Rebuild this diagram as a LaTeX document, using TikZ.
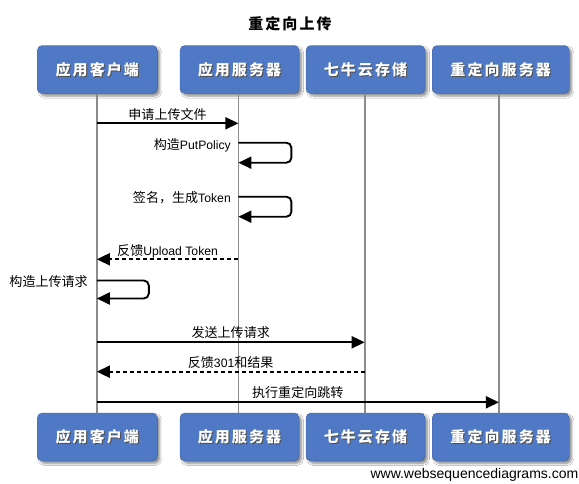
\documentclass[tikz,border=0pt]{standalone}
\usepackage{fontspec}
\setmainfont{Liberation Sans}
\newfontfamily\cjk{Noto Sans CJK SC}[Scale=1.07]
\newfontfamily\cjkbox{Noto Sans CJK SC}[LetterSpace=14]
\usetikzlibrary{arrows.meta,shadows.blur}
\definecolor{boxblue}{RGB}{79,121,196}
\definecolor{boxedge}{RGB}{60,95,160}
\newcommand\zh[1]{{\cjk #1}}
\tikzset{
  actor/.style={rectangle, rounded corners=5pt, fill=boxblue, draw=boxedge, line width=0.4pt,
    minimum height=48pt, inner sep=0pt,
    blur shadow={shadow xshift=2.5pt, shadow yshift=-2.5pt, shadow blur steps=6, shadow opacity=45}},
  actortext/.style={text=white, font=\fontsize{15}{16}\selectfont\cjkbox\bfseries, inner sep=0pt},
  actorshadow/.style={text=black!70, font=\fontsize{15}{16}\selectfont\cjkbox\bfseries, inner sep=0pt},
  lifeline/.style={draw=black!45, line width=1.8pt},
  msg/.style={draw=black, line width=1.9pt, -{Triangle[length=13pt,width=12pt]}},
  ret/.style={msg, dash pattern=on 4pt off 3pt},
  selfmsg/.style={msg, rounded corners=5pt},
  lbl/.style={font=\fontsize{12.2}{14}\selectfont, inner sep=0pt, anchor=base},
}
\newcommand\actor[5]{% name, x, y, width, text
  \node[actor, minimum width=#4pt] (#1) at (#2,#3) {};
  \node[actorshadow] at ([xshift=1pt,yshift=-1pt]#1.center) {#5};
  \node[actortext] at (#1.center) {#5};
}
\begin{document}
\begin{tikzpicture}[x=1pt,y=-1pt]
\useasboundingbox (0,0) rectangle (579,483);
\fill[white] (0,0) rectangle (579,483);
% title
\node[font=\fontsize{15}{16}\selectfont\cjkbox\bfseries, inner sep=0pt] (title) at (290,24) {重定向上传};
% actors
\actor{a1t}{97.3}{69.5}{120}{应用客户端}
\actor{a2t}{239.5}{69.5}{119}{应用服务器}
\actor{a3t}{365.5}{69.5}{119}{七牛云存储}
\actor{a4t}{500.7}{69.5}{137}{重定向服务器}
% lifelines (drawn before bottom actors)
\coordinate (l1t) at (96.8,94); \coordinate (l1b) at (96.8,413);
\coordinate (l2t) at (238.4,94); \coordinate (l2b) at (238.4,413);
\coordinate (l3t) at (364.7,94); \coordinate (l3b) at (364.7,413);
\coordinate (l4t) at (498.9,94); \coordinate (l4b) at (498.9,413);
\draw[lifeline] (l1t) -- (l1b);
\draw[lifeline] (l2t) -- (l2b);
\draw[lifeline] (l3t) -- (l3b);
\draw[lifeline] (l4t) -- (l4b);
\actor{a1b}{97.3}{437}{120}{应用客户端}
\actor{a2b}{239.5}{437}{119}{应用服务器}
\actor{a3b}{365.5}{437}{119}{七牛云存储}
\actor{a4b}{500.7}{437}{137}{重定向服务器}
% message end points
\coordinate (m1a) at (96.8,123.3); \coordinate (m1b) at (238.4,123.3);
\coordinate (s1a) at (238.4,142.7); \coordinate (s1b) at (238.4,162.7);
\coordinate (s2a) at (238.4,196.7); \coordinate (s2b) at (238.4,216.7);
\coordinate (m4a) at (238.4,259.3); \coordinate (m4b) at (96.8,259.3);
\coordinate (s3a) at (96.8,280.5); \coordinate (s3b) at (96.8,298.5);
\coordinate (m6a) at (96.8,342.3); \coordinate (m6b) at (364.7,342.3);
\coordinate (m7a) at (364.7,371.7); \coordinate (m7b) at (96.8,371.7);
\coordinate (m8a) at (96.8,402.3); \coordinate (m8b) at (498.9,402.3);
% messages
\draw[msg] (m1a) -- (m1b);
\node[lbl] (t1) at (167.6,119.5) {\zh{申请上传文件}};
\draw[selfmsg] (s1a) -- ++(53,0) |- (s1b);
\node[lbl, anchor=base east] (t2) at (231,149.5) {\zh{构造}PutPolicy};
\draw[selfmsg] (s2a) -- ++(53,0) |- (s2b);
\node[lbl, anchor=base east] (t3) at (231,202.5) {\zh{签名，生成}Token};
\draw[ret] (m4a) -- (m4b);
\node[lbl] (t4) at (167.6,255) {\zh{反馈}Upload Token};
\draw[selfmsg] (s3a) -- ++(52,0) |- (s3b);
\node[lbl, anchor=base east] (t5) at (88,286) {\zh{构造上传请求}};
\draw[msg] (m6a) -- (m6b);
\node[lbl] (t6) at (230.7,337.8) {\zh{发送上传请求}};
\draw[ret] (m7a) -- (m7b);
\node[lbl] (t7) at (230.7,367.5) {\zh{反馈}301\zh{和结果}};
\draw[msg] (m8a) -- (m8b);
\node[lbl] (t8) at (297.8,397.8) {\zh{执行重定向跳转}};
% watermark
\node[font=\fontsize{14}{15}\selectfont, inner sep=0pt, anchor=east] (wm) at (578.5,474.5) {www.websequencediagrams.com};
\end{tikzpicture}
\end{document}
